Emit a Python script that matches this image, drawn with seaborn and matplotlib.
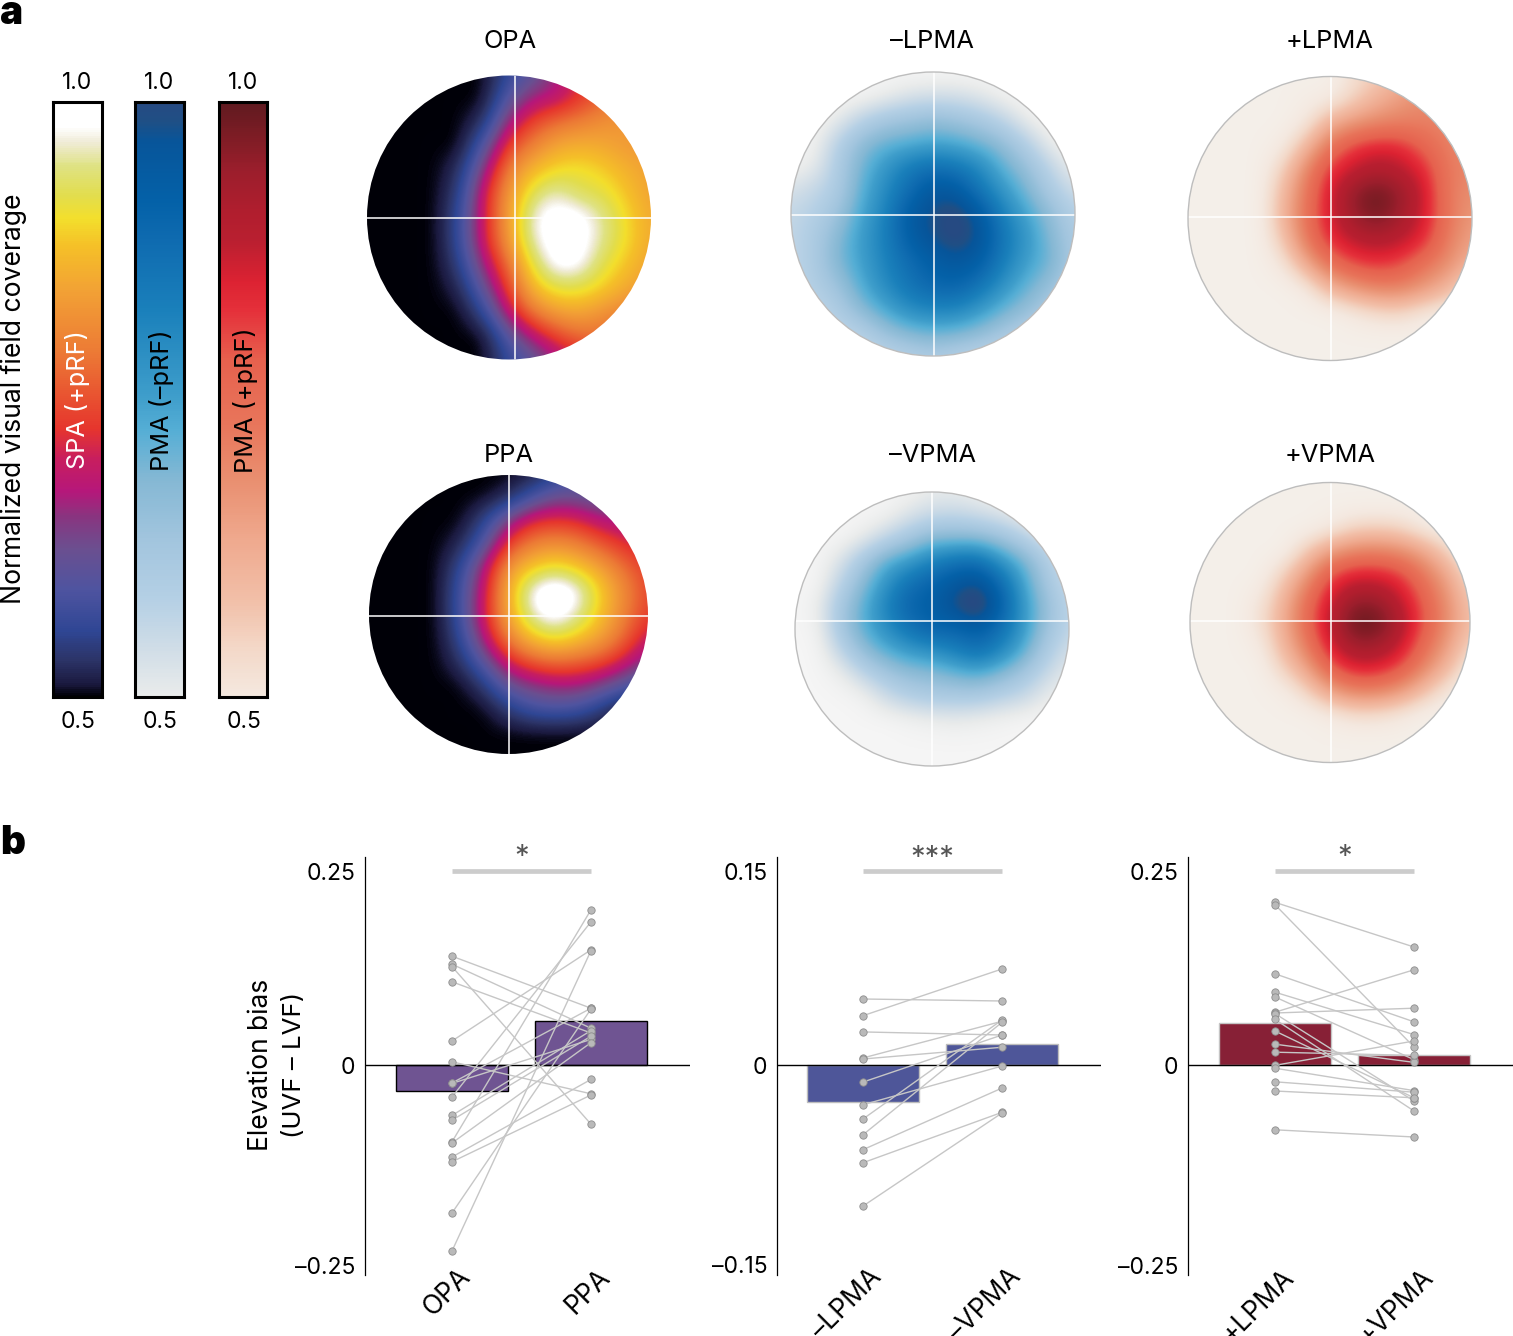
import numpy as np
import pandas as pd
import matplotlib
matplotlib.use('Agg')
import matplotlib.pyplot as plt
from matplotlib.colors import LinearSegmentedColormap
from matplotlib.patches import Circle
from matplotlib.transforms import ScaledTranslation
import seaborn as sns

W, H = 1513, 1336

# colour scales, coverage value -> colour
FIRE_STOPS = [(.47, '#000006'), (.50, '#000008'), (.51, '#1b1a40'), (.53, '#2c3468'), (.555, '#2f4694'),
              (.59, '#4f54a0'), (.623, '#6a4f90'), (.652, '#8a347f'), (.673, '#b6177a'), (.70, '#c81e5e'),
              (.725, '#e6352d'), (.79, '#ec7a35'), (.84, '#f2a035'), (.88, '#f5c028'), (.903, '#f3df2c'),
              (.922, '#e2dd4d'), (.947, '#dfe283'), (.968, '#f0ecd8'), (.98, '#ffffff'), (1.0, '#ffffff')]
BLUE_STOPS = [(.47, '#f5f5f5'), (.50, '#e9ebeb'), (.539, '#d0dde7'), (.581, '#b5d0e5'), (.631, '#a2c5de'),
              (.682, '#85b8d4'), (.724, '#55aed5'), (.752, '#3f9ecb'), (.825, '#1a80bb'), (.884, '#0f6bb0'),
              (.917, '#0461a8'), (.968, '#07559a'), (.985, '#1f4f85'), (1.0, '#264a82')]
RED_STOPS = [(.47, '#f4efe9'), (.50, '#f4e8df'), (.539, '#f3d8c8'), (.581, '#f2bfa8'), (.631, '#efa98e'),
             (.682, '#e98f70'), (.732, '#e8745a'), (.783, '#e6614e'), (.825, '#e5303a'), (.85, '#dc2232'),
             (.885, '#b91f30'), (.909, '#b01e2e'), (.943, '#9b1e2c'), (.976, '#7a1c24'), (1.0, '#601a20')]

# coverage maps, 13 x 13 samples, top row first
OPA_FIELD = [
    [.5, .5, .5, .5, .5, .5, .56, .6, .66, .72, .76, .8, .82],
    [.5, .5, .5, .5, .5, .5, .6, .67, .68, .725, .77, .8, .82],
    [.5, .5, .5, .5, .5, .53, .67, .74, .78, .8, .82, .83, .84],
    [.5, .5, .5, .5, .5, .6, .74, .8, .85, .86, .85, .83, .83],
    [.5, .5, .5, .5, .53, .66, .8, .87, .9, .91, .89, .86, .84],
    [.5, .5, .5, .5, .55, .71, .83, .93, .97, .925, .92, .88, .84],
    [.5, .5, .5, .5, .57, .71, .84, .98, 1, 1, .95, .9, .85],
    [.5, .5, .5, .5, .57, .71, .83, .97, 1, 1, .95, .9, .85],
    [.5, .5, .5, .5, .55, .67, .78, .92, 1, .99, .92, .88, .84],
    [.5, .5, .5, .5, .52, .62, .74, .87, .92, .92, .89, .85, .83],
    [.5, .5, .5, .5, .5, .56, .69, .79, .84, .85, .82, .8, .78],
    [.5, .5, .5, .5, .5, .5, .6, .68, .74, .78, .78, .76, .74],
    [.5, .5, .5, .5, .5, .5, .56, .6, .66, .7, .72, .72, .72],
]
PPA_FIELD = [
    [.5, .5, .5, .5, .5, .5, .5, .51, .54, .58, .6, .62, .65],
    [.5, .5, .5, .5, .5, .5, .52, .58, .63, .62, .6, .6, .6],
    [.5, .5, .5, .5, .5, .55, .65, .72, .73, .72, .68, .67, .66],
    [.5, .5, .5, .5, .52, .6, .74, .8, .82, .8, .76, .72, .7],
    [.5, .5, .5, .5, .56, .68, .83, .89, .92, .89, .84, .78, .73],
    [.5, .5, .5, .5, .58, .7, .86, .99, 1.03, .99, .89, .81, .74],
    [.5, .5, .5, .5, .58, .71, .85, .97, 1.01, .96, .88, .8, .73],
    [.5, .5, .5, .5, .56, .68, .8, .88, .92, .885, .84, .77, .69],
    [.5, .5, .5, .5, .53, .61, .71, .76, .78, .77, .75, .7, .64],
    [.5, .5, .5, .5, .5, .54, .62, .65, .67, .67, .64, .6, .56],
    [.5, .5, .5, .5, .5, .5, .54, .58, .59, .58, .54, .5, .5],
    [.5, .5, .5, .5, .5, .5, .5, .5, .5, .5, .5, .5, .5],
    [.5, .5, .5, .5, .5, .5, .5, .5, .5, .5, .5, .5, .5],
]
NEG_LPMA_FIELD = [
    [.47, .47, .47, .47, .47, .47, .47, .47, .47, .47, .47, .47, .47],
    [.47, .47, .47, .47, .49, .52, .53, .53, .51, .48, .47, .47, .47],
    [.47, .47, .5, .57, .62, .64, .66, .64, .61, .56, .49, .47, .47],
    [.47, .48, .58, .67, .71, .72, .74, .73, .7, .66, .58, .49, .47],
    [.48, .5, .6, .7, .77, .84, .87, .85, .8, .71, .65, .56, .49],
    [.53, .56, .6, .72, .8, .88, .96, .95, .85, .77, .69, .6, .54],
    [.56, .58, .64, .74, .82, .94, .99, 1.02, .95, .82, .74, .66, .58],
    [.56, .6, .68, .76, .83, .93, .98, 1.02, .97, .85, .77, .68, .6],
    [.56, .6, .69, .75, .82, .88, .93, .96, .93, .83, .75, .7, .6],
    [.56, .59, .64, .73, .8, .86, .9, .91, .86, .78, .71, .65, .58],
    [.55, .56, .6, .68, .74, .8, .82, .82, .77, .71, .66, .6, .56],
    [.55, .55, .56, .58, .65, .69, .71, .7, .67, .62, .58, .55, .55],
    [.55, .55, .55, .55, .56, .58, .6, .58, .56, .55, .55, .55, .55],
]
NEG_VPMA_FIELD = [
    [.47, .47, .47, .47, .47, .48, .5, .5, .49, .48, .47, .47, .47],
    [.47, .47, .47, .47, .48, .52, .55, .56, .54, .52, .49, .47, .47],
    [.47, .47, .47, .5, .56, .62, .68, .68, .68, .64, .58, .52, .48],
    [.47, .47, .52, .62, .72, .76, .82, .86, .87, .78, .7, .6, .52],
    [.47, .47, .57, .68, .78, .87, .91, .96, .99, .89, .75, .62, .55],
    [.47, .49, .62, .72, .82, .91, .93, .99, 1.05, .93, .77, .66, .56],
    [.47, .48, .62, .72, .79, .86, .91, .9, .93, .87, .77, .64, .56],
    [.47, .47, .56, .66, .72, .76, .78, .82, .87, .81, .72, .6, .53],
    [.47, .47, .49, .56, .62, .66, .67, .7, .72, .68, .62, .55, .5],
    [.47, .47, .47, .48, .54, .58, .6, .6, .6, .57, .55, .5, .48],
    [.47, .47, .47, .47, .47, .48, .49, .5, .49, .48, .47, .47, .47],
    [.47, .47, .47, .47, .47, .47, .47, .47, .47, .47, .47, .47, .47],
    [.47, .47, .47, .47, .47, .47, .47, .47, .47, .47, .47, .47, .47],
]
POS_LPMA_FIELD = [
    [.47, .47, .47, .47, .47, .47, .47, .52, .56, .6, .65, .67, .68],
    [.47, .47, .47, .47, .47, .48, .49, .55, .61, .66, .69, .69, .69],
    [.47, .47, .47, .47, .47, .5, .62, .67, .7, .71, .71, .7, .68],
    [.47, .47, .47, .47, .49, .6, .74, .82, .85, .84, .77, .71, .69],
    [.47, .47, .47, .47, .55, .7, .83, .88, .91, .89, .84, .72, .7],
    [.47, .47, .47, .47, .59, .73, .86, .96, 1, .95, .87, .72, .68],
    [.47, .47, .47, .47, .6, .74, .86, .94, .98, .93, .86, .73, .66],
    [.47, .47, .47, .47, .56, .72, .83, .88, .9, .88, .83, .71, .64],
    [.47, .47, .47, .47, .5, .62, .74, .8, .82, .8, .73, .68, .6],
    [.47, .47, .47, .47, .47, .49, .6, .66, .7, .7, .66, .6, .5],
    [.47, .47, .47, .47, .47, .47, .47, .5, .53, .54, .5, .48, .47],
    [.47, .47, .47, .47, .47, .47, .47, .47, .47, .47, .47, .47, .47],
    [.47, .47, .47, .47, .47, .47, .47, .47, .47, .47, .47, .47, .47],
]
POS_VPMA_FIELD = [
    [.47, .47, .47, .47, .47, .47, .47, .47, .47, .47, .47, .47, .47],
    [.47, .47, .47, .47, .47, .47, .47, .47, .47, .47, .47, .47, .47],
    [.47, .47, .47, .47, .47, .47, .49, .54, .55, .54, .49, .47, .47],
    [.47, .47, .47, .47, .47, .56, .65, .7, .71, .69, .64, .55, .47],
    [.47, .47, .47, .47, .55, .66, .8, .85, .85, .82, .73, .64, .52],
    [.47, .47, .47, .5, .6, .74, .86, .94, .94, .88, .78, .68, .56],
    [.47, .47, .47, .52, .62, .76, .89, 1, 1, .92, .8, .69, .58],
    [.47, .47, .47, .49, .6, .72, .86, .94, .94, .88, .76, .66, .54],
    [.47, .47, .47, .47, .55, .64, .78, .85, .85, .8, .7, .6, .49],
    [.47, .47, .47, .47, .48, .54, .64, .7, .7, .66, .58, .5, .47],
    [.47, .47, .47, .47, .47, .47, .49, .52, .52, .5, .47, .47, .47],
    [.47, .47, .47, .47, .47, .47, .47, .47, .47, .47, .47, .47, .47],
    [.47, .47, .47, .47, .47, .47, .47, .47, .47, .47, .47, .47, .47],
]

# paired points, first list is the left category
OPA_VALUES = [.136, .126, .123, .104, .030, .004, -.0225, -.023, -.040, -.063, -.069, -.096, -.0975, -.115, -.121, -.185, -.2325]
PPA_VALUES = [.071, .046, -.074, .040, .144, -.036, .071, .032, .179, .043, .036, .194, .028, -.018, -.0375, .070, .143]
NEG_LPMA_VALUES = [.0495, .037, .0248, .0053, .0045, -.0128, -.0298, -.0405, -.0523, -.0635, -.0733, -.1058]
NEG_VPMA_VALUES = [.048, .072, .0225, .0328, .0133, .0225, -.0008, .0338, .032, -.0173, -.0355, -.036]
POS_LPMA_VALUES = [.2033, .2004, .114, .091, .085, .066, .065, .0642, .057, .0425, .026, .016, -.0004, -.004, -.021, -.0325, -.081]
POS_VPMA_VALUES = [.1475, .0225, .054, .038, .0067, .119, .071, -.045, -.0575, -.041, .0033, .012, .030, -.032, -.034, -.041, -.090]

BAR_MEANS = [[-.0325, .055], [-.0278, .0158], [.0525, .012]]


def px_axes(x0, y0, x1, y1):
    return fig.add_axes([x0 / W, 1 - y1 / H, (x1 - x0) / W, (y1 - y0) / H])


def px_text(x, y, s, **kw):
    fig.text(x / W, 1 - y / H, s, ha='center', va='center', color=kw.pop('color', 'black'), **kw)


def make_cmap(stops):
    lo, hi = stops[0][0], stops[-1][0]
    return LinearSegmentedColormap.from_list('c', [((v - lo) / (hi - lo), c) for v, c in stops], N=512)


sns.set_theme(style='white')
plt.rcParams['font.family'] = ['Inter', 'DejaVu Sans']
fig = plt.figure(figsize=(W / 100, H / 100), dpi=100)
TXT = 16.5

cmaps = {'fire': make_cmap(FIRE_STOPS), 'blue': make_cmap(BLUE_STOPS), 'red': make_cmap(RED_STOPS)}

# colour bars
levels = pd.DataFrame({'v': np.linspace(1, .5, 300)})
for (x0, x1), name, lab, col, lx in [((53, 102), 'fire', 'SPA (+pRF)', 'white', 78),
                                     ((135, 184), 'blue', 'PMA (–pRF)', 'black', 162),
                                     ((219, 267), 'red', 'PMA (+pRF)', 'black', 245)]:
    ax = px_axes(x0, 102, x1, 697)
    sns.heatmap(levels, cmap=cmaps[name], vmin=.47, vmax=1, cbar=False, xticklabels=False, yticklabels=False, ax=ax)
    for s in ax.spines.values():
        s.set_visible(True)
        s.set_color('black')
        s.set_linewidth(2.2)
    xc = (x0 + x1) / 2
    px_text(lx, 400, lab, rotation=90, color=col, fontsize=18.2)
    px_text(xc, 83, '1.0', fontsize=TXT)
    px_text(xc + 1, 722, '0.5', fontsize=TXT)
px_text(14, 399, 'Normalized visual field coverage', rotation=90, fontsize=19.1)

# visual field maps: field, cmap, centre x, centre y, radius, cross x, cross y, rim, title, title x, title y
maps = [(OPA_FIELD, 'fire', 509, 217.5, 142, 514.5, 218, False, 'OPA', 510, 42),
        (PPA_FIELD, 'fire', 508.5, 614.5, 139.5, 508.5, 616, False, 'PPA', 509, 456),
        (NEG_LPMA_FIELD, 'blue', 933, 214, 142, 933.5, 215, True, '–LPMA', 932, 42),
        (NEG_VPMA_FIELD, 'blue', 932, 629, 137, 931.5, 621, True, '–VPMA', 932, 456),
        (POS_LPMA_FIELD, 'red', 1330, 218.5, 142, 1331, 217, True, '+LPMA', 1330, 42),
        (POS_VPMA_FIELD, 'red', 1330, 622.5, 140, 1330.5, 621, True, '+VPMA', 1330, 456)]
for field, name, cx, cy, r, hx, hy, rim, title, tx, ty in maps:
    ax = px_axes(cx - r - 2, cy - r - 2, cx + r + 2, cy + r + 2)
    ax.axis('off')
    half = 1 + 1 / 12
    im = ax.imshow(field, cmap=cmaps[name], vmin=.47, vmax=1, extent=[-half, half, -half, half],
                   interpolation='bicubic', interpolation_stage='data', zorder=1)
    disc = Circle((0, 0), 1, transform=ax.transData)
    im.set_clip_path(disc)
    xc = (hx - cx) / r
    yc = (cy - hy) / r
    hl = ax.plot([-1, 1], [yc, yc], color='white', lw=1.1, zorder=2)[0]
    vl = ax.plot([xc, xc], [-1, 1], color='white', lw=1.1, zorder=2)[0]
    hl.set_clip_path(disc)
    vl.set_clip_path(disc)
    if rim:
        ax.add_patch(Circle((0, 0), 1, fill=False, ec='#bdbdbd', lw=1, zorder=3))
    lim = (r + 2) / r
    ax.set_xlim(-lim, lim)
    ax.set_ylim(-lim, lim)
    px_text(tx, ty, title, fontsize=18.3)

# paired bar panels
panels = [(365, 690, 452, 591, 800, ['OPA', 'PPA'], OPA_VALUES, PPA_VALUES, '#6f5492', 'black', '*', ['0.25', '0', '–0.25'], .25),
          (777, 1101, 863, 1002, 1333.3, ['–LPMA', '–VPMA'], NEG_LPMA_VALUES, NEG_VPMA_VALUES, '#4e5699', '#bdbdbd', '***', ['0.15', '0', '–0.15'], .15),
          (1188, 1513, 1275, 1414, 800, ['+LPMA', '+VPMA'], POS_LPMA_VALUES, POS_VPMA_VALUES, '#872036', '#c4c4c4', '*', ['0.25', '0', '–0.25'], .25)]
Y_TOP, Y_ZERO, Y_BOT = 857, 1065, 1275
for i, (x0, x1, p0, p1, scale, cats, left, right, col, edge, star, yt, tick) in enumerate(panels):
    ax = px_axes(x0, Y_TOP, x1, Y_BOT)
    sns.barplot(x=cats, y=BAR_MEANS[i], color=col, saturation=1, width=.805, edgecolor=edge, linewidth=1, ax=ax, zorder=2)
    df = pd.DataFrame({'pair': list(range(len(left))) * 2,
                       'pos': [0] * len(left) + [1] * len(right),
                       'value': left + right})
    sns.lineplot(data=df, x='pos', y='value', units='pair', estimator=None, color='#c6c6c6', lw=1, ax=ax, zorder=4, legend=False)
    sns.scatterplot(data=df, x='pos', y='value', color='#b9b9b9', edgecolor='#8e8e8e', linewidth=.6, s=28, ax=ax, zorder=5, clip_on=False)
    step = p1 - p0
    ax.set_xlim((x0 - p0) / step, (x1 - p0) / step)
    ax.set_ylim((Y_ZERO - Y_BOT) / scale, (Y_ZERO - Y_TOP) / scale)
    ax.axhline(0, color='black', lw=1, zorder=3)
    sns.despine(ax=ax, bottom=True)
    ax.spines['left'].set_color('black')
    ax.spines['left'].set_linewidth(.9)
    ax.set_xlabel('')
    ax.set_ylabel('')
    ax.tick_params(axis='both', length=0)
    ax.tick_params(axis='y', pad=7)
    ax.tick_params(axis='x', pad=0)
    ax.set_yticks([tick, 0, -tick])
    ax.set_yticklabels(yt, fontsize=TXT, color='black')
    # top label sits a little below its value in the original
    for lab, dy in zip(ax.get_yticklabels(), [-6, 0, 0]):
        lab.set_transform(lab.get_transform() + ScaledTranslation(0, dy / 100, fig.dpi_scale_trans))
    ax.set_xticks([0, 1])
    ax.set_xticklabels(cats, fontsize=19, color='black', rotation=45, ha='right', va='center', rotation_mode='anchor')
    offset = ScaledTranslation(15 / 100, 2 / 100, fig.dpi_scale_trans)
    for lab in ax.get_xticklabels():
        lab.set_transform(lab.get_transform() + offset)
    bar_y = (Y_ZERO - 871) / scale
    ax.plot([0, 1], [bar_y, bar_y], color='#cccccc', lw=3.4, solid_capstyle='butt', zorder=3)
    ax.text(.5, (Y_ZERO - 858) / scale, star, ha='center', va='center', fontsize=21, color='#555555')
    ax.set_facecolor('none')

px_text(261, 1065, 'Elevation bias', rotation=90, fontsize=19)
px_text(294, 1065, '(UVF – LVF)', rotation=90, fontsize=18.6)

# panel letters
fig.text(0, 1 - 14 / H, 'a', fontsize=28, fontweight='black', va='center', ha='left', color='black')
fig.text(0, 1 - 843 / H, 'b', fontsize=28, fontweight='black', va='center', ha='left', color='black')

fig.savefig('out.png', dpi=100)
